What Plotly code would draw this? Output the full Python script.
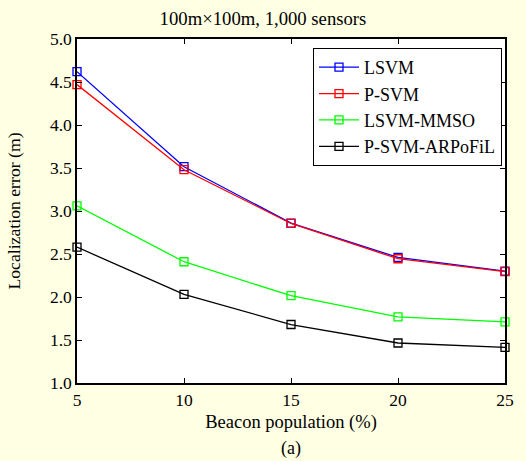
import plotly.graph_objects as go

beacon = [5, 10, 15, 20, 25]
lsvm = [4.62, 3.515, 2.86, 2.46, 2.30]
psvm = [4.47, 3.48, 2.855, 2.445, 2.295]
lsvm_mmso = [3.06, 2.41, 2.015, 1.77, 1.71]
psvm_arpofil = [2.58, 2.03, 1.68, 1.465, 1.415]

series = [
    ("LSVM", lsvm, "#0000FF"),
    ("P-SVM", psvm, "#FF0000"),
    ("LSVM-MMSO", lsvm_mmso, "#00FF00"),
    ("P-SVM-ARPoFiL", psvm_arpofil, "#000000"),
]

FONT = "Liberation Serif"
fig = go.Figure()
for name, vals, col in series:
    fig.add_trace(go.Scatter(
        x=beacon, y=vals, name=name, mode="lines+markers",
        line=dict(color=col, width=1.3),
        marker=dict(symbol="square-open", size=8, color=col, line=dict(width=1.3)),
        cliponaxis=False,
    ))

fig.update_layout(
    width=526, height=461,
    paper_bgcolor="#FFFFE3", plot_bgcolor="#FFFFFF",
    margin=dict(l=77, r=16, t=39, b=78),
    font=dict(family=FONT, size=17, color="#000000"),
    title=dict(text="100m×100m, 1,000 sensors", x=0.5, xanchor="center",
               y=1 - 18 / 461, yanchor="middle",
               font=dict(family=FONT, size=18.7)),
    showlegend=True,
    legend=dict(x=0.993, y=0.974, xanchor="right", yanchor="top",
                bgcolor="#FFFFFF", bordercolor="#000000", borderwidth=1,
                font=dict(family=FONT, size=18), tracegroupgap=0, itemwidth=40),
)
fig.update_xaxes(
    range=[5, 25], tickvals=[5, 10, 15, 20, 25], ticks="inside", ticklen=5,
    tickcolor="#000", showline=True, linecolor="#000", linewidth=1.5,
    mirror="ticks", showgrid=False, zeroline=False,
    tickfont=dict(family=FONT, size=17.5),
    title=dict(text="Beacon population (%)", standoff=6,
               font=dict(family=FONT, size=18.5)),
)
fig.update_yaxes(
    range=[1.0, 5.0], dtick=0.5, tickformat=".1f", ticks="inside", ticklen=5,
    tickcolor="#000", showline=True, linecolor="#000", linewidth=1.5,
    mirror="ticks", showgrid=False, zeroline=False,
    tickfont=dict(family=FONT, size=17.5),
    title=dict(text="Localization error (m)", standoff=25,
               font=dict(family=FONT, size=17.7)),
)
fig.add_annotation(text="(a)", x=0.5, y=-(448 - 383) / 344, xref="paper", yref="paper",
                   yanchor="middle", showarrow=False, font=dict(family=FONT, size=18))
fig.write_html("out.html")
